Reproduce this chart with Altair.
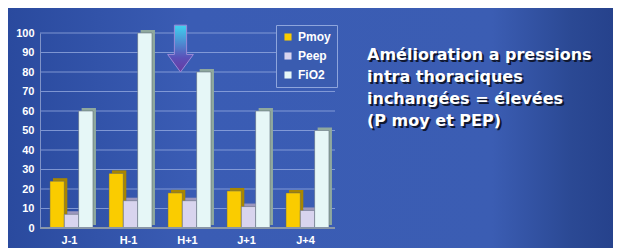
import altair as alt
import pandas as pd

categories = ["J-1", "H-1", "H+1", "J+1", "J+4"]
series = ["Pmoy", "Peep", "FiO2"]
pmoy = [24, 28, 18, 19, 18]
peep = [7, 14, 14, 11, 9]
fio2 = [60, 100, 80, 60, 50]
y_ticks = [0, 10, 20, 30, 40, 50, 60, 70, 80, 90, 100]
annotation = ["Amélioration a pressions", "intra thoraciques",
              "inchangées = élevées", "(P moy et PEP)"]

front_colors = ["#FACC00", "#D8D4EE", "#E6F7F7"]
side_colors = ["#A88600", "#9C97BE", "#8FA89E"]

rows = []
for s, vals in zip(series, [pmoy, peep, fio2]):
    for c, v in zip(categories, vals):
        rows.append({"cat": c, "serie": s, "value": v})
df = pd.DataFrame(rows)

xenc = alt.X("cat:N", sort=categories,
             scale=alt.Scale(paddingInner=0.27, paddingOuter=0.135),
             axis=alt.Axis(title=None, labelAngle=0, labelColor="white",
                           labelFont="Arial", labelFontWeight="bold",
                           labelFontSize=11, labelPadding=6, ticks=False,
                           domain=False, grid=False, zindex=1))
yenc = alt.Y("value:Q", scale=alt.Scale(domain=[0, 100], nice=False),
             axis=alt.Axis(title=None, values=y_ticks,
                           labelColor="white", labelFont="Arial",
                           labelFontWeight="bold", labelFontSize=11,
                           labelPadding=6, ticks=False, domain=True,
                           domainColor="#7f93c8", grid=False, zindex=1))

one = pd.DataFrame({"k": [0]})

bg = alt.Chart(one).mark_rect(
    fill=alt.Gradient(gradient="linear", x1=0, y1=0, x2=1, y2=0,
                      stops=[alt.GradientStop(color="#2a4a9e", offset=0),
                             alt.GradientStop(color="#3a5cb4", offset=0.3),
                             alt.GradientStop(color="#3b5db3", offset=0.8),
                             alt.GradientStop(color="#2b4994", offset=0.93),
                             alt.GradientStop(color="#26428c", offset=1)]),
).encode(x=alt.value(-32), x2=alt.value(573), y=alt.value(-25), y2=alt.value(215))

grid = alt.Chart(pd.DataFrame({"value": y_ticks})).mark_rule(
    color="#9fb4e6", opacity=0.7, strokeWidth=1).encode(y=yenc)

side = alt.Chart(df).mark_bar(yOffset=-3).encode(
    x=xenc, y=yenc,
    xOffset=alt.XOffset("serie:N", sort=series,
                        scale=alt.Scale(paddingInner=0, range=[5, 48])),
    color=alt.Color("serie:N", sort=series,
                    scale=alt.Scale(domain=series, range=side_colors),
                    legend=None),
)

front = alt.Chart(df).mark_bar(stroke="#556070", strokeWidth=0.5).encode(
    x=xenc, y=yenc,
    xOffset=alt.XOffset("serie:N", sort=series,
                        scale=alt.Scale(paddingInner=0, range=[2, 45])),
    color=alt.Color("serie:N", sort=series,
                    scale=alt.Scale(domain=series, range=front_colors),
                    legend=alt.Legend(title=None, orient="none", legendX=236,
                                      legendY=-8, symbolType="square",
                                      symbolSize=50, symbolStrokeWidth=0,
                                      labelColor="white", labelFont="Arial",
                                      labelFontWeight="bold", labelFontSize=12,
                                      rowPadding=7, padding=6,
                                      strokeColor="#8ea5dc",
                                      fillColor="#3a5cb0")),
)

floor = alt.Chart(pd.DataFrame({"value": [0]})).mark_rule(
    color="#8a97a8", strokeWidth=2).encode(y=yenc)

arrow_df = pd.DataFrame({"cat": ["H+1"], "value": [92]})
arrow = alt.Chart(arrow_df).mark_point(
    shape="M -0.26 -1 L 0.26 -1 L 0.26 0.25 L 0.55 0.25 L 0 1 L -0.55 0.25 L -0.26 0.25 Z",
    size=2200, filled=True, xOffset=-7, opacity=1,
    fill=alt.Gradient(gradient="linear", x1=0, y1=0, x2=0, y2=1,
                      stops=[alt.GradientStop(color="#3fd3f0", offset=0),
                             alt.GradientStop(color="#5a4fb8", offset=0.7),
                             alt.GradientStop(color="#6a3aa0", offset=1)]),
    stroke="#9a8ad8", strokeWidth=1,
).encode(x=xenc, y=yenc)

shadow = alt.Chart(one).mark_text(
    align="left", baseline="middle", font="DejaVu Sans", fontWeight="bold",
    fontSize=16, lineHeight=22, color="#101830", text=annotation,
).encode(x=alt.value(329), y=alt.value(24))
ann = alt.Chart(one).mark_text(
    align="left", baseline="middle", font="DejaVu Sans", fontWeight="bold",
    fontSize=16, lineHeight=22, color="white", text=annotation,
).encode(x=alt.value(327), y=alt.value(22))

chart = alt.layer(bg, grid, side, front, floor, arrow, shadow, ann).resolve_scale(
    color="independent", xOffset="independent"
).properties(
    width=295, height=195,
    autosize=alt.AutoSizeParams(type="none"),
    padding={"left": 32, "top": 25, "right": 278, "bottom": 20},
    background="#3455A8",
).configure_view(stroke=None, clip=False)

chart.save("out.html", embed_options={"renderer": "svg", "actions": False})
